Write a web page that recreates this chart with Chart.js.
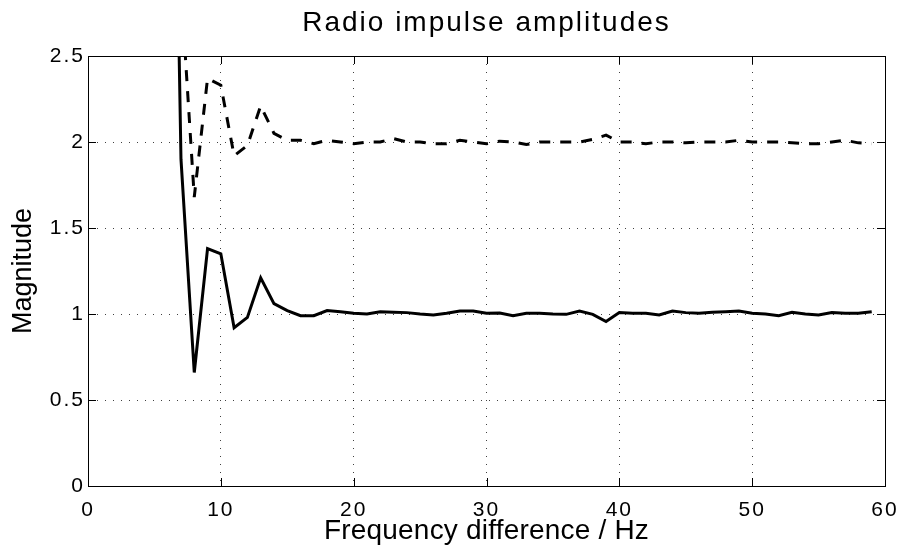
<!DOCTYPE html>
<html>
<head>
<meta charset="utf-8">
<script src="https://cdn.jsdelivr.net/npm/chart.js@4/dist/chart.umd.min.js"></script>
<style>
  html, body { margin: 0; padding: 0; background: #fff; }
  #wrap { width: 901px; height: 549px; }
</style>
</head>
<body>
<div id="wrap"><canvas id="c" width="901" height="549"></canvas></div>
<script>
// ---- data ----
const freqs = [6,7,8,9,10,11,12,13,14,15,16,17,18,19,20,21,22,23,24,25,26,27,28,29,30,31,32,33,34,35,36,37,38,39,40,41,42,43,44,45,46,47,48,49,50,51,52,53,54,55,56,57,58,59];
const solidVals = [6.3,1.9,0.66,1.38,1.35,0.92,0.98,1.21,1.06,1.02,0.99,0.99,1.02,1.013,1.004,1.0,1.013,1.01,1.008,1.0,0.994,1.004,1.017,1.017,1.004,1.006,0.99,1.004,1.004,1.0,0.998,1.017,0.998,0.956,1.008,1.004,1.004,0.994,1.017,1.008,1.004,1.01,1.013,1.017,1.004,1.0,0.99,1.01,1.0,0.994,1.008,1.004,1.004,1.013];
const dashedVals = [7.3,2.9,1.68,2.37,2.33,1.92,1.98,2.21,2.05,2.01,2.01,1.99,2.01,2.0,1.99,2.0,2.0,2.02,2.0,2.0,1.99,1.99,2.01,2.0,1.99,2.005,2.0,1.985,2.0,2.0,2.0,2.0,2.015,2.04,2.0,2.0,1.99,2.0,2.0,1.995,2.0,2.0,2.0,2.01,2.0,2.0,2.0,1.995,1.99,1.99,2.0,2.01,1.995,1.99];
const xTickValues = [0,10,20,30,40,50,60];
const xTickLabels = ['0','10','20','30','40','50','60'];
const yTickValues = [0,0.5,1,1.5,2,2.5];
const yTickLabels = ['0','0.5','1','1.5','2','2.5'];
const titleText = 'Radio impulse amplitudes';
const xTitle = 'Frequency difference / Hz';
const yTitle = 'Magnitude';

const toPts = (vals) => freqs.map((f, i) => ({ x: f, y: vals[i] }));
const FONT = "'Liberation Sans', Arial, Helvetica, sans-serif";

function withSpacing(obj, method, sp) {
  if (!obj || obj['__sp_' + method]) return;
  const orig = obj[method].bind(obj);
  obj[method] = function (...args) {
    const ctx = this.ctx;
    const prev = ctx.letterSpacing;
    ctx.letterSpacing = sp;
    orig(...args);
    ctx.letterSpacing = prev || '0px';
  };
  obj['__sp_' + method] = true;
}

const spacingPlugin = {
  id: 'spacing',
  beforeDraw(chart) {
    withSpacing(chart.titleBlock, 'draw', '2px');
    withSpacing(chart.scales.x, 'drawLabels', '2px');
    withSpacing(chart.scales.y, 'drawLabels', '2px');
    withSpacing(chart.scales.x, 'drawTitle', '0.2px');
  }
};

const boxPlugin = {
  id: 'matlabBox',
  afterDatasetsDraw(chart) {
    const { ctx, chartArea: a, scales } = chart;
    ctx.save();
    ctx.strokeStyle = '#000';
    ctx.lineWidth = 1;
    ctx.setLineDash([]);
    ctx.strokeRect(Math.round(a.left) + 0.5, Math.round(a.top) + 0.5, Math.round(a.right - a.left), Math.round(a.bottom - a.top));
    const L = 8;
    ctx.beginPath();
    xTickValues.forEach(v => {
      const px = Math.round(scales.x.getPixelForValue(v)) + 0.5;
      ctx.moveTo(px, a.bottom); ctx.lineTo(px, a.bottom - L);
      ctx.moveTo(px, a.top); ctx.lineTo(px, a.top + L);
    });
    yTickValues.forEach(v => {
      const py = Math.round(scales.y.getPixelForValue(v)) + 0.5;
      ctx.moveTo(a.left, py); ctx.lineTo(a.left + L, py);
      ctx.moveTo(a.right, py); ctx.lineTo(a.right - L, py);
    });
    ctx.stroke();
    ctx.restore();
  }
};

new Chart(document.getElementById('c'), {
  type: 'line',
  data: {
    datasets: [
      { label: 'solid', data: toPts(solidVals), borderColor: '#000', borderWidth: 3, pointRadius: 0, tension: 0, fill: false, clip: 0 },
      { label: 'dashed', data: toPts(dashedVals), borderColor: '#000', borderWidth: 3, borderDash: [11, 10], pointRadius: 0, tension: 0, fill: false, clip: 0 }
    ]
  },
  options: {
    responsive: false,
    animation: false,
    devicePixelRatio: 1,
    layout: { padding: { left: 0, right: 16, top: 0, bottom: 0 } },
    plugins: {
      legend: { display: false },
      tooltip: { enabled: false },
      title: {
        display: true, text: titleText, color: '#000', fullSize: false,
        font: { family: FONT, size: 28, weight: 'normal', lineHeight: 1.2 },
        padding: { top: 6.5, bottom: 15.9 }
      }
    },
    scales: {
      x: {
        type: 'linear', min: 0, max: 60,
        afterFit: (s) => { s.height = 63; s.paddingLeft = 0; s.paddingRight = 0; },
        afterBuildTicks: (s) => { s.ticks = xTickValues.map(v => ({ value: v })); },
        ticks: { color: '#000', font: { family: FONT, size: 21 }, padding: 12, maxRotation: 0,
          callback: (v) => xTickLabels[xTickValues.indexOf(v)] },
        grid: { color: 'rgba(0,0,0,0.75)', lineWidth: 1, drawTicks: false },
        border: { display: true, color: '#000', width: 1, dash: [1, 7] },
        title: { display: true, text: xTitle, color: '#000', font: { family: FONT, size: 28, lineHeight: 1.2 }, padding: { top: 0, bottom: 1 } }
      },
      y: {
        type: 'linear', min: 0, max: 2.5,
        afterFit: (s) => { s.width = 88; s.paddingTop = 0; s.paddingBottom = 0; },
        afterBuildTicks: (s) => { s.ticks = yTickValues.map(v => ({ value: v })); },
        ticks: { color: '#000', font: { family: FONT, size: 21 }, padding: 3,
          callback: (v) => yTickLabels[yTickValues.indexOf(v)] },
        grid: { color: 'rgba(0,0,0,0.75)', lineWidth: 1, drawTicks: false },
        border: { display: true, color: '#000', width: 1, dash: [1, 7] },
        title: { display: true, text: yTitle, color: '#000', font: { family: FONT, size: 27, lineHeight: 1.2 }, padding: { top: 7, bottom: 0 } }
      }
    }
  },
  plugins: [spacingPlugin, boxPlugin]
});
</script>
</body>
</html>
